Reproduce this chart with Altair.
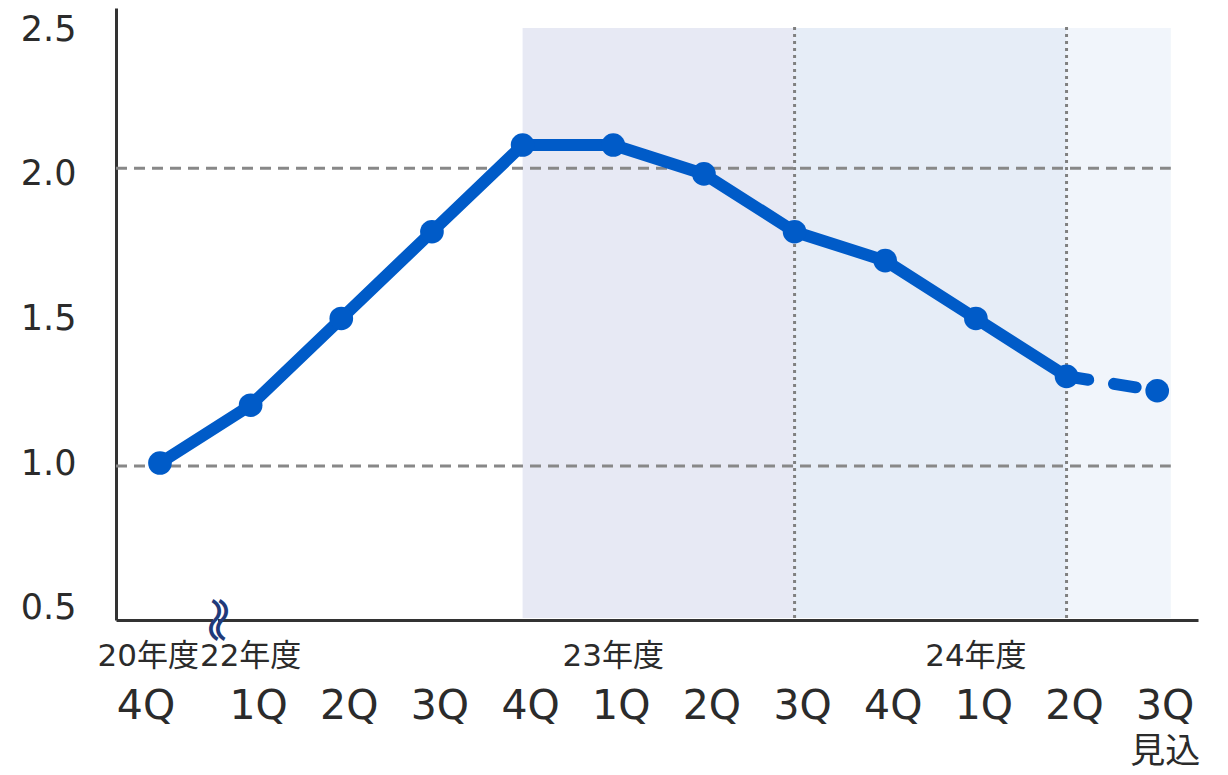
import altair as alt
import pandas as pd

FONT = "DejaVu Sans, Noto Sans CJK JP"

idx = list(range(12))
quarters = ["4Q", "1Q", "2Q", "3Q", "4Q", "1Q", "2Q", "3Q", "4Q", "1Q", "2Q", "3Q"]
values = [1.0, 1.2, 1.5, 1.8, 2.1, 2.1, 2.0, 1.8, 1.7, 1.5, 1.3, 1.25]

year_labels = ["20年度", "22年度", "23年度", "24年度"]
year_pos = [-0.13, 1.0, 5.0, 9.0]

band_start = [4, 7, 10]
band_end = [7, 10, 11.15]
band_color = ["#E7E9F4", "#E6EDF7", "#F1F5FB"]

vlines = [7, 10]
hlines = [2.02, 0.99]

YMIN, YMAX = 0.457, 2.574
XMIN, XMAX = -0.485, 11.45
BAND_BOTTOM = 0.464

df = pd.DataFrame({"i": idx, "v": values, "q": quarters})
solid = df[df.i <= 10]
dashed = df[df.i >= 10]
first_lab = df[df.i == 0]
other_lab = df[df.i > 0]

xs = alt.Scale(domain=[XMIN, XMAX], nice=False, zero=False)
ys = alt.Scale(domain=[YMIN, YMAX], nice=False, zero=False)

bands = alt.Chart(pd.DataFrame({"s": band_start, "e": band_end, "c": band_color,
                                "y0": [BAND_BOTTOM]*3, "y1": [2.505]*3})).mark_rect().encode(
    x=alt.X("s:Q", scale=xs, axis=alt.Axis(title=None, labels=False, ticks=False, grid=False,
                                            domainColor="#333333", domainWidth=3)),
    x2="e:Q",
    y=alt.Y("y0:Q", scale=ys, axis=alt.Axis(title=None, values=[0.5, 1.0, 1.5, 2.0, 2.5], format=".1f",
                                             ticks=False, grid=False, domainColor="#333333", domainWidth=3,
                                             labelFontSize=35, labelFont=FONT, labelColor="#2b2b2b",
                                             labelPadding=40)),
    y2="y1:Q",
    color=alt.Color("c:N", scale=None),
)

vrules = alt.Chart(pd.DataFrame({"x": vlines, "y0": [BAND_BOTTOM]*2, "y1": [2.516]*2})).mark_rule(
    color="#808080", strokeWidth=3, strokeDash=[3, 4]).encode(
    x=alt.X("x:Q", scale=xs), y=alt.Y("y0:Q", scale=ys), y2="y1:Q")

hrules = alt.Chart(pd.DataFrame({"y": hlines, "x0": [XMIN]*2, "x1": [11.15]*2})).mark_rule(
    color="#888888", strokeWidth=3, strokeDash=[11, 7]).encode(
    y=alt.Y("y:Q", scale=ys), x=alt.X("x0:Q", scale=xs), x2="x1:Q")

BLUE = "#005BC8"
line_solid = alt.Chart(solid).mark_line(color=BLUE, strokeWidth=12, strokeJoin="round").encode(
    x=alt.X("i:Q", scale=xs), y=alt.Y("v:Q", scale=ys))
line_dash = alt.Chart(dashed).mark_line(color=BLUE, strokeWidth=12, strokeDash=[22, 26], strokeCap="round").encode(
    x=alt.X("i:Q", scale=xs), y=alt.Y("v:Q", scale=ys))
pts = alt.Chart(df).mark_circle(color=BLUE, size=560, opacity=1).encode(
    x=alt.X("i:Q", scale=xs), y=alt.Y("v:Q", scale=ys))

qlab = alt.Chart(other_lab).mark_text(font=FONT, fontSize=41, color="#2b2b2b", dx=8, baseline="middle").encode(
    x=alt.X("i:Q", scale=xs), y=alt.value(699), text="q:N")
qlab0 = alt.Chart(first_lab).mark_text(font=FONT, fontSize=41, color="#2b2b2b", dx=-14, baseline="middle").encode(
    x=alt.X("i:Q", scale=xs), y=alt.value(699), text="q:N")

ylab = alt.Chart(pd.DataFrame({"t": year_labels, "x": year_pos})).mark_text(
    font=FONT, fontSize=31, color="#2b2b2b", baseline="middle").encode(
    x=alt.X("x:Q", scale=xs), y=alt.value(649), text="t:N")

mikomi = alt.Chart(pd.DataFrame({"t": ["見込"], "x": [11]})).mark_text(
    font=FONT, fontSize=35, color="#2b2b2b", baseline="middle", dx=8).encode(
    x=alt.X("x:Q", scale=xs), y=alt.value(744), text="t:N")

# axis break marker (two vertical wavy strokes with a white gap on the axis)
gap = alt.Chart(pd.DataFrame({"x0": [0.585], "x1": [0.64], "y0": [0.44], "y1": [0.475]})).mark_rect(
    color="white").encode(x=alt.X("x0:Q", scale=xs), x2="x1:Q", y=alt.Y("y0:Q", scale=ys), y2="y1:Q")
brk = alt.Chart(pd.DataFrame({"t": ["〜", "〜"], "x": [0.574, 0.651], "y": [YMIN, YMIN]})).mark_text(
    font="Noto Sans CJK JP", fontSize=46, color="#1F3A7A", baseline="middle", align="center", angle=90).encode(
    x=alt.X("x:Q", scale=xs), y=alt.Y("y:Q", scale=ys), text="t:N")

chart = alt.layer(bands, vrules, hrules, line_solid, line_dash, pts, qlab, qlab0, ylab, mikomi, gap, brk).properties(
    width=1082, height=612,
    background="white",
    autosize=alt.AutoSizeParams(type="none"),
    padding={"left": 108, "top": 0, "right": 20, "bottom": 155},
).configure_view(stroke="transparent", strokeWidth=0)

chart.save("out.html", embed_options={"renderer": "svg", "actions": False})
